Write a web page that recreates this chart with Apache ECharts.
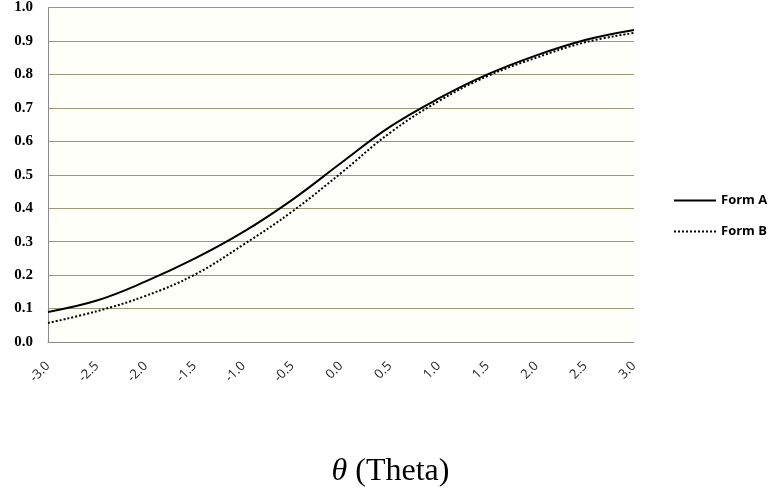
<!DOCTYPE html>
<html>
<head>
<meta charset="utf-8">
<script src="https://cdn.jsdelivr.net/npm/echarts@6/dist/echarts.min.js"></script>
<style>html,body{margin:0;padding:0;background:#fff;}#c{width:781px;height:495px;}</style>
</head>
<body>
<div id="c"></div>
<script>
const theta = [-3.0, -2.5, -2.0, -1.5, -1.0, -0.5, 0.0, 0.5, 1.0, 1.5, 2.0, 2.5, 3.0];
const formA = [0.090, 0.124, 0.181, 0.249, 0.329, 0.425, 0.535, 0.643, 0.728, 0.800, 0.857, 0.903, 0.933];
const formB = [0.057, 0.092, 0.138, 0.201, 0.291, 0.390, 0.505, 0.625, 0.720, 0.795, 0.850, 0.896, 0.924];
const seriesNames = ['Form A', 'Form B'];
const xTitle = 'θ (Theta)';

const chart = echarts.init(document.getElementById('c'));
chart.setOption({
  animation: false,
  backgroundColor: '#ffffff',
  grid: { left: 48, right: 147, top: 7, bottom: 153, show: true, backgroundColor: '#fffffa', borderWidth: 0 },
  title: {
    text: '{i|θ} (Theta)',
    left: 'center', top: 451,
    textStyle: {
      fontFamily: 'Liberation Serif', fontSize: 32, fontWeight: 'normal', color: '#000',
      rich: { i: { fontFamily: 'Liberation Serif', fontStyle: 'italic', fontSize: 32, color: '#000' } }
    }
  },
  legend: {
    orient: 'vertical', left: 668, top: 189, itemGap: 18, itemWidth: 42, itemHeight: 14,
    data: seriesNames,
    itemStyle: { opacity: 0 },
    textStyle: { fontFamily: 'Open Sans', fontWeight: 'bold', fontSize: 13, color: '#000', padding: [0, 0, 0, 0] }
  },
  xAxis: {
    type: 'value', min: -3, max: 3, interval: 0.5,
    axisLine: { show: true, onZero: false, lineStyle: { color: '#8a8a8a', width: 1 } },
    axisTick: { show: false },
    splitLine: { show: false },
    axisLabel: { rotate: 45, margin: 22, fontFamily: 'Open Sans', fontSize: 13, color: '#222',
      formatter: v => v.toFixed(1) }
  },
  yAxis: {
    type: 'value', min: 0, max: 1, interval: 0.1,
    axisLine: { show: true, onZero: false, lineStyle: { color: '#8a8a8a', width: 1 } },
    axisTick: { show: false },
    splitLine: { show: true, lineStyle: { color: '#9a9877', width: 1 } },
    axisLabel: { margin: 15, fontFamily: 'Liberation Serif', fontWeight: 'bold', fontSize: 15, color: '#000',
      formatter: v => v.toFixed(1) }
  },
  series: [
    { name: seriesNames[0], type: 'line', smooth: 0.4, showSymbol: false, symbol: 'none',
      data: theta.map((t, i) => [t, formA[i]]),
      lineStyle: { color: '#000', width: 2, type: 'solid' }, itemStyle: { color: '#000' } },
    { name: seriesNames[1], type: 'line', smooth: 0.4, showSymbol: false, symbol: 'none',
      data: theta.map((t, i) => [t, formB[i]]),
      lineStyle: { color: '#000', width: 2, type: [2, 2] }, itemStyle: { color: '#000' } }
  ]
});
</script>
</body>
</html>
